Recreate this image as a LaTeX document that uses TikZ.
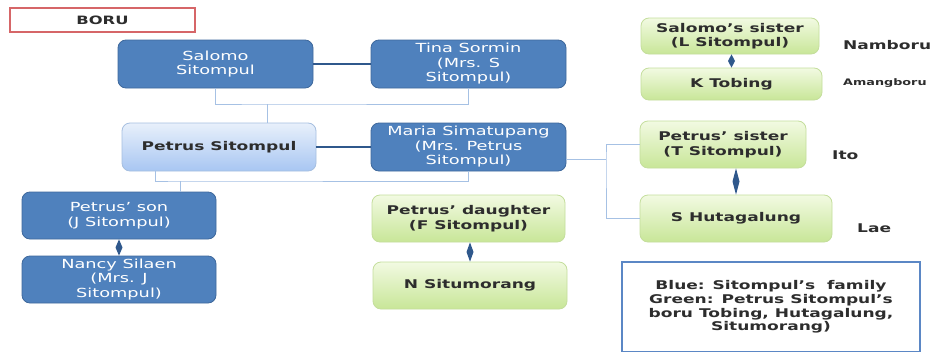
\documentclass[tikz,border=0pt]{standalone}
\usepackage{fontspec}
\setmainfont{DejaVu Sans}[FakeStretch=1.42]
\usepackage{tikz}
\usetikzlibrary{calc}
\definecolor{famblue}{RGB}{79,129,189}
\definecolor{famedge}{RGB}{62,104,156}
\definecolor{tieblue}{RGB}{47,88,140}
\definecolor{kinline}{RGB}{166,193,228}
\definecolor{greentop}{RGB}{242,250,226}
\definecolor{greenbot}{RGB}{200,230,152}
\definecolor{greenedge}{RGB}{196,222,156}
\definecolor{paletop}{RGB}{232,240,251}
\definecolor{palebot}{RGB}{168,198,242}
\definecolor{paleedge}{RGB}{166,191,224}
\definecolor{boruedge}{RGB}{214,102,104}
\definecolor{keyedge}{RGB}{91,135,197}
\definecolor{inkgray}{RGB}{45,45,45}
\begin{document}
\begin{tikzpicture}[x=1pt,y=1pt,yscale=-1,
  box/.style={rounded corners=8pt,minimum width=195pt,minimum height=48pt,align=center,inner sep=2pt,
    font=\fontsize{12}{14.5}\selectfont\bfseries},
  sitompul/.style={box,fill=famblue,draw=famedge,line width=0.8pt,text=white,
    font=\fontsize{12.5}{14.5}\selectfont},
  boru/.style={box,top color=greentop,bottom color=greenbot,draw=greenedge,line width=0.8pt,text=inkgray},
  kin/.style={draw=kinline,line width=1pt},
  spouse/.style={draw=tieblue,line width=2pt},
  tag/.style={anchor=west,inner sep=0pt,text=inkgray,font=\fontsize{12}{13}\selectfont\bfseries}]
\clip (0,0) rectangle (934,351);
\fill[white] (0,0) rectangle (934,351);

\node[draw=boruedge,line width=1.2pt,minimum width=185pt,minimum height=24pt,text=inkgray,
  font=\fontsize{11.5}{13}\selectfont\bfseries] (title) at (102.5,20) {BORU};

% Sitompul side
\node[sitompul] (salomo) at (215.5,64) {Salomo\\Sitompul};
\node[sitompul] (tina) at (468.5,64) {Tina Sormin\\(Mrs. S\\Sitompul)};
\node[box,top color=paletop,bottom color=palebot,draw=paleedge,line width=0.8pt,minimum width=194pt,text=inkgray] (petrus) at (219,147) {Petrus Sitompul};
\node[sitompul] (maria) at (468.5,147) {Maria Simatupang\\(Mrs. Petrus\\Sitompul)};
\node[sitompul,minimum width=194pt,minimum height=47pt] (son) at (119,215.5) {Petrus’ son\\(J Sitompul)};
\node[sitompul,minimum width=194pt,minimum height=47pt] (nancy) at (119,279.5) {Nancy Silaen\\(Mrs. J\\Sitompul)};

% boru side
\node[boru,minimum width=193pt,minimum height=47pt] (daughter) at (468.5,218.5) {Petrus’ daughter\\(F Sitompul)};
\node[boru,minimum width=194pt,minimum height=47pt] (situmorang) at (470,285.5) {N Situmorang};
\node[boru,minimum width=178pt,minimum height=36pt] (lsister) at (730,36) {Salomo’s sister\\(L Sitompul)};
\node[boru,minimum width=181pt,minimum height=32pt] (tobing) at (731.5,84) {K Tobing};
\node[boru,minimum width=166pt,minimum height=47pt] (psister) at (723,144.5) {Petrus’ sister\\(T Sitompul)};
\node[boru,minimum width=192pt,minimum height=47pt] (hutagalung) at (736,218.5) {S Hutagalung};

\node[tag] (namboru) at (843,45) {Namboru};
\node[tag,font=\fontsize{9}{10}\selectfont\bfseries] (amangboru) at (843,83) {Amangboru};
\node[tag] (ito) at (832,155) {Ito};
\node[tag] (lae) at (857,228) {Lae};

\node[draw=keyedge,line width=1.2pt,minimum width=298pt,minimum height=90pt,align=center,text=inkgray,
  font=\fontsize{12}{13.7}\selectfont\bfseries] (key) at (771,307)
  {Blue: Sitompul’s\ \ family\\Green: Petrus Sitompul’s\\boru Tobing, Hutagalung,\\Situmorang)};

% marriages
\draw[spouse] (salomo) -- (tina);
\draw[spouse] (petrus) -- (maria);

% descent
\coordinate (upper) at (267,104);
\coordinate (lower) at (180,181);
\coordinate (fork) at (606,159);
\draw[kin] (salomo.south) |- (upper) -| (tina.south);
\draw[kin] (upper) -- (upper |- petrus.north);
\draw[kin] ([xshift=-64pt]petrus.south) |- (lower) -| (maria.south);
\draw[kin] (lower) -- (lower |- son.north);
\draw[kin] (fork -| maria.east) -- (fork);
\draw[kin] (psister.west) -| (fork) |- (hutagalung.west);

% boru ties
\foreach \a/\b in {lsister/tobing,psister/hutagalung,son/nancy,daughter/situmorang}
  \fill[tieblue] (\a.south -| \b.north) -- ($(\a.south -| \b.north)!0.5!(\b.north)+(3.5,0)$)
    -- (\b.north) -- ($(\a.south -| \b.north)!0.5!(\b.north)+(-3.5,0)$) -- cycle;
\end{tikzpicture}
\end{document}
